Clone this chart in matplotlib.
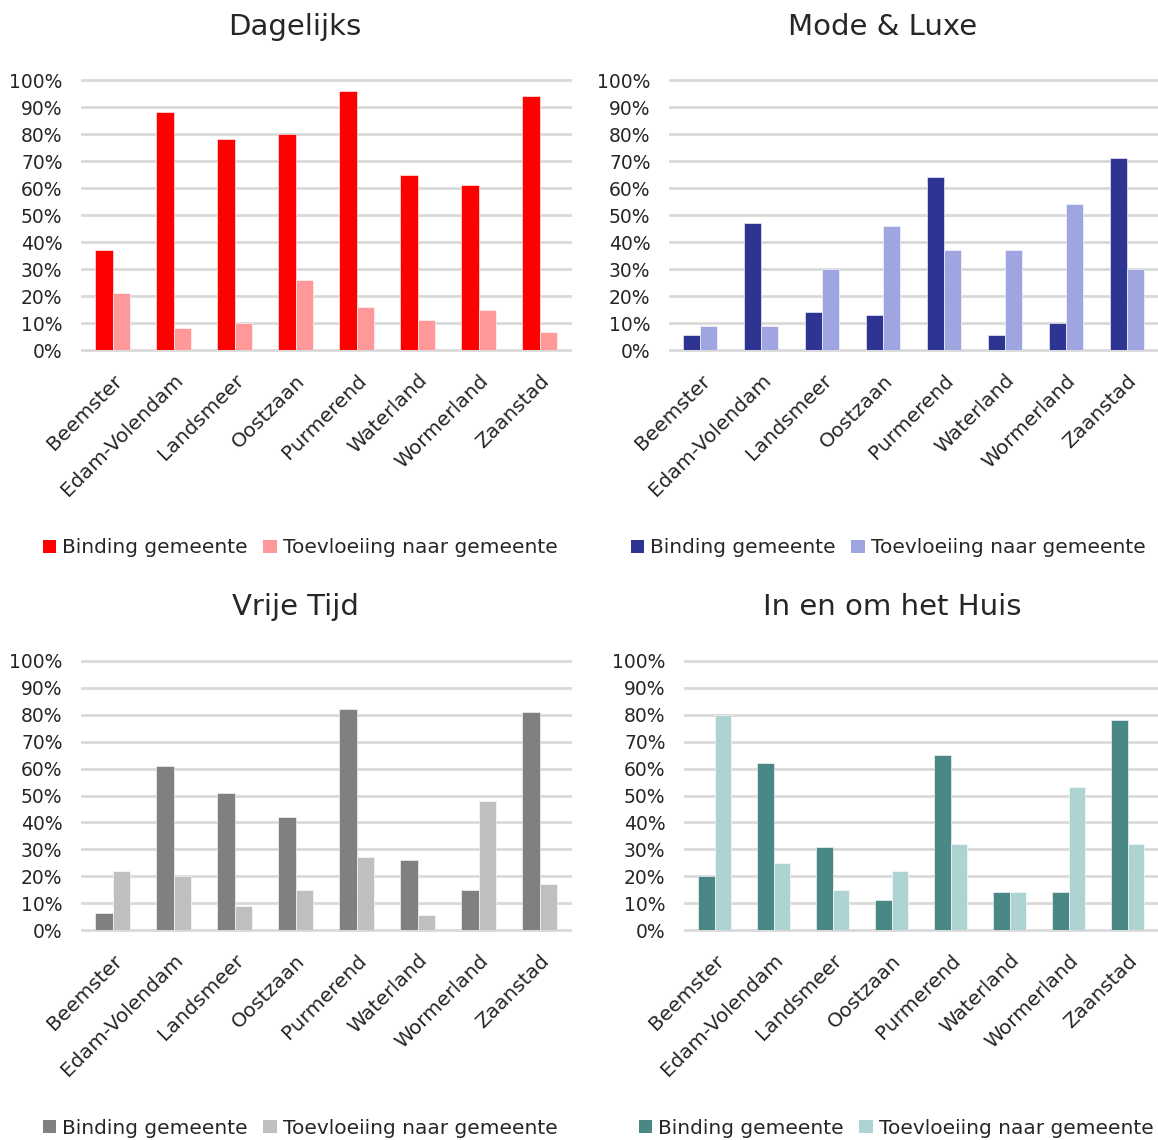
import matplotlib
matplotlib.use("Agg")
import matplotlib.pyplot as plt
from matplotlib.patches import Patch
import numpy as np

plt.rcParams['font.family'] = ['DejaVu Sans']

gemeenten = ["Beemster", "Edam-Volendam", "Landsmeer", "Oostzaan",
             "Purmerend", "Waterland", "Wormerland", "Zaanstad"]
series_names = ["Binding gemeente", "Toevloeiing naar gemeente"]

titles = ["Dagelijks", "Mode & Luxe", "Vrije Tijd", "In en om het Huis"]

dagelijks_binding = [37, 88, 78, 80, 96, 65, 61, 94]
dagelijks_toevloeiing = [21, 8, 10, 26, 16, 11, 15, 6.5]

mode_binding = [5.5, 47, 14, 13, 64, 5.5, 10, 71]
mode_toevloeiing = [9, 9, 30, 46, 37, 37, 54, 30]

vrije_tijd_binding = [6.5, 61, 51, 42, 82, 26, 15, 81]
vrije_tijd_toevloeiing = [22, 20, 9, 15, 27, 5.5, 48, 17]

huis_binding = [20, 62, 31, 11, 65, 14, 14, 78]
huis_toevloeiing = [80, 25, 15, 22, 32, 14, 53, 32]

yticks = [0, 10, 20, 30, 40, 50, 60, 70, 80, 90, 100]
ytick_labels = [f"{v}%" for v in yticks]

panels = [
    (dagelijks_binding, dagelijks_toevloeiing, "#FF0000", "#FF9999"),
    (mode_binding, mode_toevloeiing, "#2E3492", "#9FA5E0"),
    (vrije_tijd_binding, vrije_tijd_toevloeiing, "#808080", "#BFBFBF"),
    (huis_binding, huis_toevloeiing, "#4A8886", "#ADD3D2"),
]

W, H = 1158, 1140
fig = plt.figure(figsize=(W / 100, H / 100), dpi=100)

# pixel boxes: (left, right, top(100%), bottom(0%)), title centre, legend centre
boxes = [
    (82, 570, 80, 350, 295, 27, 300, 548),
    (670, 1157, 80, 350, 883, 27, 888, 548),
    (82, 570, 661, 930, 295, 607, 300, 1128),
    (685, 1157, 661, 930, 892, 607, 896, 1128),
]

x = np.arange(len(gemeenten))
bw = 0.28
label_color = "#262626"

for (b, t, c1, c2), title, box in zip(panels, titles, boxes):
    l, r, top, bot, tx, ty, lx, ly = box
    ax = fig.add_axes([l / W, 1 - bot / H, (r - l) / W, (bot - top) / H])
    ax.bar(x - bw / 2, b, bw, color=c1, edgecolor="white", linewidth=0.4, zorder=3)
    ax.bar(x + bw / 2, t, bw, color=c2, edgecolor="white", linewidth=0.4, zorder=3)
    ax.set_xlim(-0.5, len(gemeenten) - 0.5)
    ax.set_ylim(0, 100)
    ax.set_yticks(yticks)
    ax.set_yticklabels(ytick_labels, fontsize=13.5, color=label_color)
    ax.set_xticks(x)
    ax.set_xticklabels(gemeenten, rotation=45, ha="right", va="top",
                       rotation_mode="anchor", fontsize=14.5, color=label_color)
    ax.tick_params(axis="both", length=0)
    ax.tick_params(axis="y", pad=14)
    ax.tick_params(axis="x", pad=15)
    ax.grid(axis="y", color="#D9D9D9", linewidth=2, zorder=0)
    for gl in ax.get_ygridlines():
        gl.set_clip_on(False)
    for s in ax.spines.values():
        s.set_visible(False)
    ax.set_axisbelow(True)
    fig.text(tx / W, 1 - ty / H, title, ha="center", va="center",
             fontsize=21, color=label_color)
    handles = [Patch(facecolor=c1), Patch(facecolor=c2)]
    fig.legend(handles, series_names, loc="center", ncol=2,
               bbox_to_anchor=(lx / W, 1 - ly / H), frameon=False,
               fontsize=14.5, handlelength=0.65, handleheight=0.65,
               handletextpad=0.3, columnspacing=0.8, labelcolor=label_color)

fig.savefig("out.png", dpi=100, facecolor="white")
